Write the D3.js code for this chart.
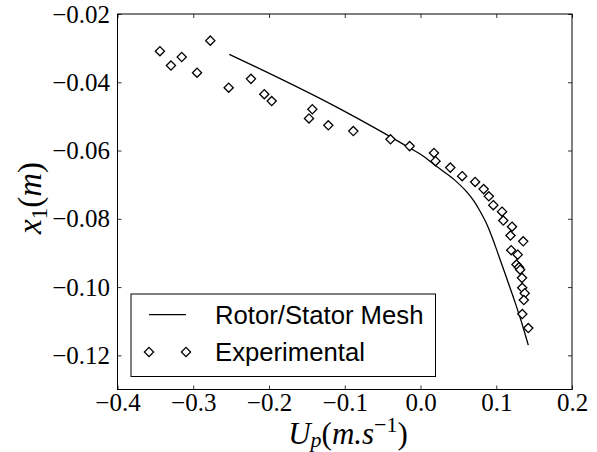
<!DOCTYPE html>
<html>
<head>
<meta charset="utf-8">
<script src="https://cdn.jsdelivr.net/npm/d3@7"></script>
<style>
  html, body { margin: 0; padding: 0; background: #fff; }
  svg { display: block; }
</style>
</head>
<body>
<svg id="chart" width="597" height="452"></svg>
<script>
// ---- data ----
const xTicks = [-0.4, -0.3, -0.2, -0.1, 0.0, 0.1, 0.2];
const yTicks = [-0.02, -0.04, -0.06, -0.08, -0.10, -0.12];

const simU = [-0.2524, -0.1063, -0.0139, 0.0020, 0.0214, 0.0433, 0.0610, 0.0706, 0.0785, 0.0865, 0.0944, 0.1023, 0.1116, 0.1221, 0.1327, 0.1423];
const simX = [-0.0318, -0.0478, -0.0593, -0.0614, -0.0647, -0.0683, -0.0721, -0.0748, -0.0777, -0.0811, -0.0853, -0.0902, -0.0960, -0.1027, -0.1098, -0.1170];

const expU = [-0.344, -0.3294, -0.3152, -0.2775, -0.295, -0.2532, -0.2238, -0.2062, -0.1964, -0.1428, -0.1472, -0.1217, -0.0887, -0.0396, -0.0143,
  0.0178, 0.0198, 0.0393, 0.0550, 0.0721, 0.0834, 0.0902, 0.0961, 0.1076, 0.1093, 0.1208, 0.1188, 0.1356, 0.1197, 0.1283, 0.1267, 0.1300,
  0.1316, 0.1340, 0.1343, 0.1376, 0.1364, 0.1344, 0.1423];
const expX = [-0.0309, -0.0351, -0.0326, -0.0278, -0.0372, -0.0416, -0.0390, -0.0435, -0.0455, -0.0479, -0.0506, -0.0526, -0.0543, -0.0567, -0.0587,
  -0.0607, -0.0631, -0.0650, -0.0675, -0.0692, -0.0713, -0.0734, -0.0760, -0.0779, -0.0805, -0.0823, -0.0849, -0.0866, -0.0892, -0.0905, -0.0934, -0.0942,
  -0.0949, -0.0973, -0.1002, -0.1018, -0.1038, -0.1079, -0.1120];

const seriesNames = ["Rotor/Stator Mesh", "Experimental"];

// ---- layout ----
const L = 117.5, R = 572, T = 14, B = 389.5;
const svg = d3.select("#chart");
const x = d3.scaleLinear().domain([-0.4, 0.2]).range([L, R]);
const y = d3.scaleLinear().domain([-0.02, -0.13]).range([T, B]);

const tickFont = "'Liberation Serif', 'DejaVu Serif', serif";

// axes (inward ticks on all four sides)
const gx = svg.append("g").attr("transform", `translate(0,${B})`)
  .call(d3.axisBottom(x).tickValues(xTicks).tickFormat(d3.format(".1f")).tickSizeInner(-4).tickSizeOuter(0).tickPadding(3.5));
const gxt = svg.append("g").attr("transform", `translate(0,${T})`)
  .call(d3.axisTop(x).tickValues(xTicks).tickFormat("").tickSizeInner(-4).tickSizeOuter(0));
const gy = svg.append("g").attr("transform", `translate(${L},0)`)
  .call(d3.axisLeft(y).tickValues(yTicks).tickFormat(d3.format(".2f")).tickSizeInner(-4).tickSizeOuter(0).tickPadding(7.5));
const gyr = svg.append("g").attr("transform", `translate(${R},0)`)
  .call(d3.axisRight(y).tickValues(yTicks).tickFormat("").tickSizeInner(-4).tickSizeOuter(0));

[gx, gxt, gy, gyr].forEach(g => {
  g.select(".domain").remove();
  g.selectAll(".tick line").attr("stroke", "#000").attr("stroke-width", 0.8);
  g.selectAll(".tick text").attr("fill", "#000").style("font-family", tickFont).style("font-size", "25px");
});

// frame
svg.append("rect").attr("x", L).attr("y", T).attr("width", R - L).attr("height", B - T)
  .attr("fill", "none").attr("stroke", "#000").attr("stroke-width", 1);

// simulation line
const line = d3.line().x((d, i) => x(simU[i])).y((d, i) => y(simX[i])).curve(d3.curveMonotoneX);
svg.append("path").datum(simU).attr("d", line)
  .attr("fill", "none").attr("stroke", "#000").attr("stroke-width", 1.3);

// experimental diamonds
const dsz = 4.6;
const diamond = `M0,${-dsz}L${dsz},0L0,${dsz}L${-dsz},0Z`;
svg.append("g").selectAll("path").data(expU).join("path")
  .attr("d", diamond)
  .attr("transform", (d, i) => `translate(${x(expU[i])},${y(expX[i])})`)
  .attr("fill", "#fff").attr("stroke", "#000").attr("stroke-width", 1.3);

// legend
const lg = svg.append("g");
lg.append("rect").attr("x", 131).attr("y", 294).attr("width", 304.5).attr("height", 82.5)
  .attr("fill", "#fff").attr("stroke", "#000").attr("stroke-width", 1);
lg.append("line").attr("x1", 149).attr("x2", 186).attr("y1", 314.7).attr("y2", 314.7)
  .attr("stroke", "#000").attr("stroke-width", 1.3);
[149, 186].forEach(cx => {
  lg.append("path").attr("d", diamond).attr("transform", `translate(${cx},352)`)
    .attr("fill", "#fff").attr("stroke", "#000").attr("stroke-width", 1.3);
});
lg.selectAll("text").data(seriesNames).join("text")
  .attr("x", 215).attr("y", (d, i) => i === 0 ? 324 : 360.5)
  .style("font-family", "'Liberation Sans', Arial, sans-serif").style("font-size", "25.7px")
  .attr("fill", "#000").text(d => d);

// axis labels
const labFont = "'Liberation Serif', 'DejaVu Serif', serif";
const xl = svg.append("text").attr("x", 348).attr("y", 444).attr("text-anchor", "middle")
  .style("font-family", labFont).style("font-size", "31px").attr("fill", "#000");
xl.append("tspan").style("font-style", "italic").text("U");
xl.append("tspan").style("font-style", "italic").style("font-size", "22px").attr("dy", 3).text("p");
xl.append("tspan").attr("dy", -3).text("(");
xl.append("tspan").style("font-style", "italic").text("m.s");
xl.append("tspan").style("font-size", "22px").attr("dy", -12).text("\u22121");
xl.append("tspan").attr("dy", 12).text(")");

const yl = svg.append("text").attr("transform", "translate(41,198) rotate(-90)").attr("text-anchor", "middle")
  .style("font-family", labFont).style("font-size", "33px").attr("fill", "#000");
yl.append("tspan").style("font-style", "italic").text("x");
yl.append("tspan").style("font-size", "23px").attr("dy", 6).text("1");
yl.append("tspan").attr("dy", -6).text("(");
yl.append("tspan").style("font-style", "italic").text("m");
yl.append("tspan").text(")");
</script>
</body>
</html>
